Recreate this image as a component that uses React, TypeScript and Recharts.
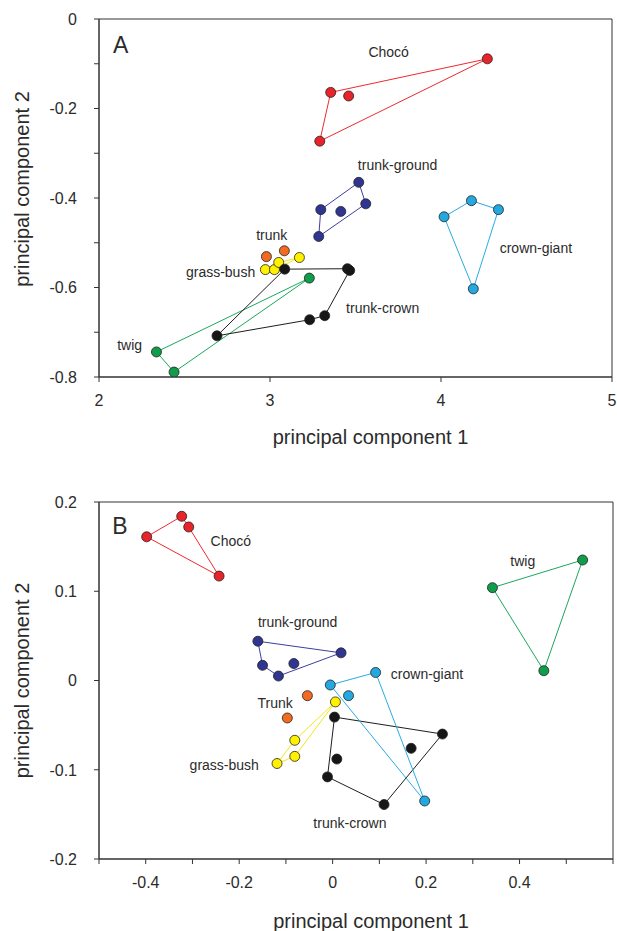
import { ReferenceArea, Scatter, ScatterChart, XAxis, YAxis } from 'recharts'

type Pt = { x: number; y: number }
type Tag = { x: number; y: number; text: string }

// ---- panel A ----
const chocoA: Pt[] = [
  { x: 3.355, y: -0.164 }, { x: 3.46, y: -0.172 }, { x: 4.271, y: -0.089 }, { x: 3.291, y: -0.273 },
]
const chocoHullA = [0, 2, 3, 0]
const trunkGroundA: Pt[] = [
  { x: 3.519, y: -0.365 }, { x: 3.56, y: -0.413 }, { x: 3.297, y: -0.426 }, { x: 3.414, y: -0.43 }, { x: 3.285, y: -0.486 },
]
const trunkGroundHullA = [2, 0, 1, 4, 2]
const crownGiantA: Pt[] = [
  { x: 4.018, y: -0.442 }, { x: 4.178, y: -0.406 }, { x: 4.336, y: -0.426 }, { x: 4.189, y: -0.603 },
]
const crownGiantHullA = [0, 1, 2, 3, 0]
const trunkCrownA: Pt[] = [
  { x: 3.086, y: -0.559 }, { x: 3.453, y: -0.558 }, { x: 3.466, y: -0.562 },
  { x: 3.32, y: -0.663 }, { x: 3.232, y: -0.672 }, { x: 2.69, y: -0.708 },
]
const trunkCrownHullA = [0, 1, 2, 3, 4, 5, 0]
const twigA: Pt[] = [{ x: 3.23, y: -0.579 }, { x: 2.336, y: -0.744 }, { x: 2.439, y: -0.789 }]
const twigHullA = [0, 1, 2, 0]
const trunkA: Pt[] = [{ x: 2.979, y: -0.531 }, { x: 3.084, y: -0.518 }]
const grassBushA: Pt[] = [
  { x: 2.973, y: -0.56 }, { x: 3.026, y: -0.56 }, { x: 3.051, y: -0.544 }, { x: 3.172, y: -0.533 },
]
const grassBushHullA = [0, 1, 3, 2, 0]
const tagsA: Tag[] = [
  { x: 3.694, y: -0.073, text: 'Chocó' },
  { x: 3.746, y: -0.326, text: 'trunk-ground' },
  { x: 4.555, y: -0.511, text: 'crown-giant' },
  { x: 3.659, y: -0.645, text: 'trunk-crown' },
  { x: 3.01, y: -0.482, text: 'trunk' },
  { x: 2.711, y: -0.565, text: 'grass-bush' },
  { x: 2.179, y: -0.728, text: 'twig' },
]
const letterA: Tag[] = [{ x: 2.127, y: -0.057, text: 'A' }]
const xTicksA = [2, 3, 4, 5]
const yTicksA = [0, -0.1, -0.2, -0.3, -0.4, -0.5, -0.6, -0.7, -0.8]
const yLabelsA = [0, -0.2, -0.4, -0.6, -0.8]

// ---- panel B ----
const chocoB: Pt[] = [
  { x: -0.398, y: 0.161 }, { x: -0.323, y: 0.184 }, { x: -0.308, y: 0.172 }, { x: -0.243, y: 0.117 },
]
const chocoHullB = [0, 1, 2, 3, 0]
const trunkGroundB: Pt[] = [
  { x: -0.16, y: 0.044 }, { x: -0.15, y: 0.017 }, { x: -0.116, y: 0.005 }, { x: -0.083, y: 0.019 }, { x: 0.018, y: 0.031 },
]
const trunkGroundHullB = [0, 4, 2, 1, 0]
const trunkB: Pt[] = [{ x: -0.054, y: -0.017 }, { x: -0.097, y: -0.042 }]
const grassBushB: Pt[] = [
  { x: -0.081, y: -0.067 }, { x: -0.081, y: -0.085 }, { x: -0.119, y: -0.093 }, { x: 0.006, y: -0.024 },
]
const grassBushHullB = [2, 0, 3, 1, 2]
const crownGiantB: Pt[] = [
  { x: -0.005, y: -0.005 }, { x: 0.092, y: 0.009 }, { x: 0.034, y: -0.017 }, { x: 0.197, y: -0.135 },
]
const crownGiantHullB = [0, 1, 3, 0]
const trunkCrownB: Pt[] = [
  { x: 0.004, y: -0.041 }, { x: 0.235, y: -0.06 }, { x: 0.168, y: -0.076 },
  { x: 0.009, y: -0.088 }, { x: -0.011, y: -0.108 }, { x: 0.11, y: -0.139 },
]
const trunkCrownHullB = [0, 1, 5, 4, 0]
const twigB: Pt[] = [{ x: 0.342, y: 0.104 }, { x: 0.535, y: 0.135 }, { x: 0.452, y: 0.011 }]
const twigHullB = [0, 1, 2, 0]
const tagsB: Tag[] = [
  { x: -0.218, y: 0.156, text: 'Chocó' },
  { x: -0.075, y: 0.0655, text: 'trunk-ground' },
  { x: -0.123, y: -0.025, text: 'Trunk' },
  { x: -0.232, y: -0.095, text: 'grass-bush' },
  { x: 0.202, y: 0.007, text: 'crown-giant' },
  { x: 0.037, y: -0.16, text: 'trunk-crown' },
  { x: 0.407, y: 0.134, text: 'twig' },
]
const letterB: Tag[] = [{ x: -0.455, y: 0.173, text: 'B' }]
const xTicksB = [-0.5, -0.4, -0.3, -0.2, -0.1, 0, 0.1, 0.2, 0.3, 0.4, 0.5, 0.6]
const xLabelsB = [-0.4, -0.2, 0, 0.2, 0.4]
const yTicksB = [0.2, 0.1, 0, -0.1, -0.2]

const COLORS = {
  red: { fill: '#e8232a', line: '#ee2a2f' },
  navy: { fill: '#2f3591', line: '#3b3f9f' },
  cyan: { fill: '#24a8e0', line: '#29abe2' },
  black: { fill: '#161616', line: '#1e1e1e' },
  green: { fill: '#0f9d4c', line: '#1aa85c' },
  orange: { fill: '#f26b21', line: '#f26b21' },
  yellow: { fill: '#fff100', line: '#f3e61c' },
}

const FONT = '"Liberation Sans", Arial, sans-serif'
const INK = '#2b2b2b'

type Group = { pts: Pt[]; hull?: number[]; color: { fill: string; line: string } }

const groupsA: Group[] = [
  { pts: chocoA, hull: chocoHullA, color: COLORS.red },
  { pts: trunkGroundA, hull: trunkGroundHullA, color: COLORS.navy },
  { pts: crownGiantA, hull: crownGiantHullA, color: COLORS.cyan },
  { pts: trunkA, color: COLORS.orange },
  { pts: grassBushA, hull: grassBushHullA, color: COLORS.yellow },
  { pts: twigA, hull: twigHullA, color: COLORS.green },
  { pts: trunkCrownA, hull: trunkCrownHullA, color: COLORS.black },
]

const groupsB: Group[] = [
  { pts: chocoB, hull: chocoHullB, color: COLORS.red },
  { pts: trunkGroundB, hull: trunkGroundHullB, color: COLORS.navy },
  { pts: twigB, hull: twigHullB, color: COLORS.green },
  { pts: trunkB, color: COLORS.orange },
  { pts: grassBushB, hull: grassBushHullB, color: COLORS.yellow },
  { pts: trunkCrownB, hull: trunkCrownHullB, color: COLORS.black },
  { pts: crownGiantB, hull: crownGiantHullB, color: COLORS.cyan },
]

const Empty = () => <g />

const dotShape = (fill: string) => (p: any) => (
  <circle cx={p.cx} cy={p.cy} r={5} fill={fill} stroke="#222" strokeWidth={0.8} />
)

const tagShape = (p: any) => (
  <text x={p.cx} y={p.cy} textAnchor="middle" dy="0.35em" fontSize={14} fill={INK} fontFamily={FONT}>
    {p.payload.text}
  </text>
)

const letterShape = (p: any) => (
  <text x={p.cx} y={p.cy} textAnchor="middle" dy="0.36em" fontSize={23} fill={INK} fontFamily={FONT}>
    {p.payload.text}
  </text>
)

const yTick = (labels: number[] | null) => (p: any) => {
  const v = p.payload.value
  if (labels && !labels.includes(v)) return <g />
  return (
    <text x={p.x} y={p.y} textAnchor="end" dy="0.36em" fontSize={16} fill={INK} fontFamily={FONT}>
      {String(v)}
    </text>
  )
}

const xTick = (labels: number[] | null) => (p: any) => {
  const v = p.payload.value
  if (labels && !labels.includes(v)) return <g />
  return (
    <text x={p.x} y={p.y} textAnchor="middle" dy="0.71em" fontSize={16} fill={INK} fontFamily={FONT}>
      {String(v)}
    </text>
  )
}

const XTitle = ({ viewBox, base }: any) => {
  const cx = viewBox.x + viewBox.width / 2 + 15
  return (
    <text x={cx} y={viewBox.y + base} textAnchor="middle" fontSize={20} fill={INK} fontFamily={FONT}>
      principal component 1
    </text>
  )
}

const YTitle = ({ viewBox, shift }: any) => {
  const cx = 22
  const cy = viewBox.y + viewBox.height / 2 + shift
  return (
    <text
      x={cx}
      y={cy}
      transform={`rotate(-90 ${cx} ${cy})`}
      textAnchor="middle"
      dy="0.35em"
      fontSize={20}
      fill={INK}
      fontFamily={FONT}
    >
      principal component 2
    </text>
  )
}

function Panel(props: {
  groups: Group[]
  tags: Tag[]
  letter: Tag[]
  xDomain: [number, number]
  yDomain: [number, number]
  xTicks: number[]
  yTicks: number[]
  xLabels: number[] | null
  yLabels: number[] | null
  height: number
  margin: { top: number; right: number; bottom: number; left: number }
  xAxisHeight: number
  titleBase: number
  yShift: number
}) {
  const { groups, tags, letter, xDomain, yDomain } = props
  return (
    <ScatterChart width={617} height={props.height} margin={props.margin}>
      <ReferenceArea
        x1={xDomain[0]}
        x2={xDomain[1]}
        y1={yDomain[0]}
        y2={yDomain[1]}
        fill="none"
        stroke="#333"
        strokeWidth={1}
      />
      <XAxis
        type="number"
        dataKey="x"
        domain={xDomain}
        ticks={props.xTicks}
        interval={0}
        allowDataOverflow
        height={props.xAxisHeight}
        stroke="#333"
        tickSize={5}
        tickMargin={13}
        tick={xTick(props.xLabels)}
        label={<XTitle base={props.titleBase} />}
      />
      <YAxis
        type="number"
        dataKey="y"
        domain={yDomain}
        ticks={props.yTicks}
        interval={0}
        allowDataOverflow
        width={99}
        stroke="#333"
        tickSize={5}
        tickMargin={17}
        tick={yTick(props.yLabels)}
        label={<YTitle shift={props.yShift} />}
      />
      {groups
        .filter((g) => g.hull)
        .map((g, i) => (
          <Scatter
            key={`hull-${i}`}
            data={g.hull!.map((k) => g.pts[k])}
            line={{ stroke: g.color.line, strokeWidth: 1 }}
            shape={Empty}
            isAnimationActive={false}
          />
        ))}
      {groups.map((g, i) => (
        <Scatter
          key={`pts-${i}`}
          data={g.pts}
          shape={dotShape(g.color.fill)}
          isAnimationActive={false}
        />
      ))}
      <Scatter data={tags} shape={tagShape} isAnimationActive={false} />
      <Scatter data={letter} shape={letterShape} isAnimationActive={false} />
    </ScatterChart>
  )
}

export default function App() {
  return (
    <div style={{ position: 'absolute', left: 0, top: 0, width: 617, height: 931, background: '#fff' }}>
      <div style={{ position: 'absolute', left: 0, top: 0 }}>
        <Panel
          groups={groupsA}
          tags={tagsA}
          letter={letterA}
          xDomain={[2, 5]}
          yDomain={[-0.8, 0]}
          xTicks={xTicksA}
          yTicks={yTicksA}
          xLabels={null}
          yLabels={yLabelsA}
          height={460}
          margin={{ top: 19, right: 5, bottom: 13, left: 0 }}
          xAxisHeight={70}
          titleBase={67}
          yShift={-9}
        />
      </div>
      <div style={{ position: 'absolute', left: 0, top: 482 }}>
        <Panel
          groups={groupsB}
          tags={tagsB}
          letter={letterB}
          xDomain={[-0.5, 0.6]}
          yDomain={[-0.2, 0.2]}
          xTicks={xTicksB}
          yTicks={yTicksB}
          xLabels={xLabelsB}
          yLabels={null}
          height={449}
          margin={{ top: 20, right: 4, bottom: 12, left: 0 }}
          xAxisHeight={60}
          titleBase={69}
          yShift={0}
        />
      </div>
    </div>
  )
}
